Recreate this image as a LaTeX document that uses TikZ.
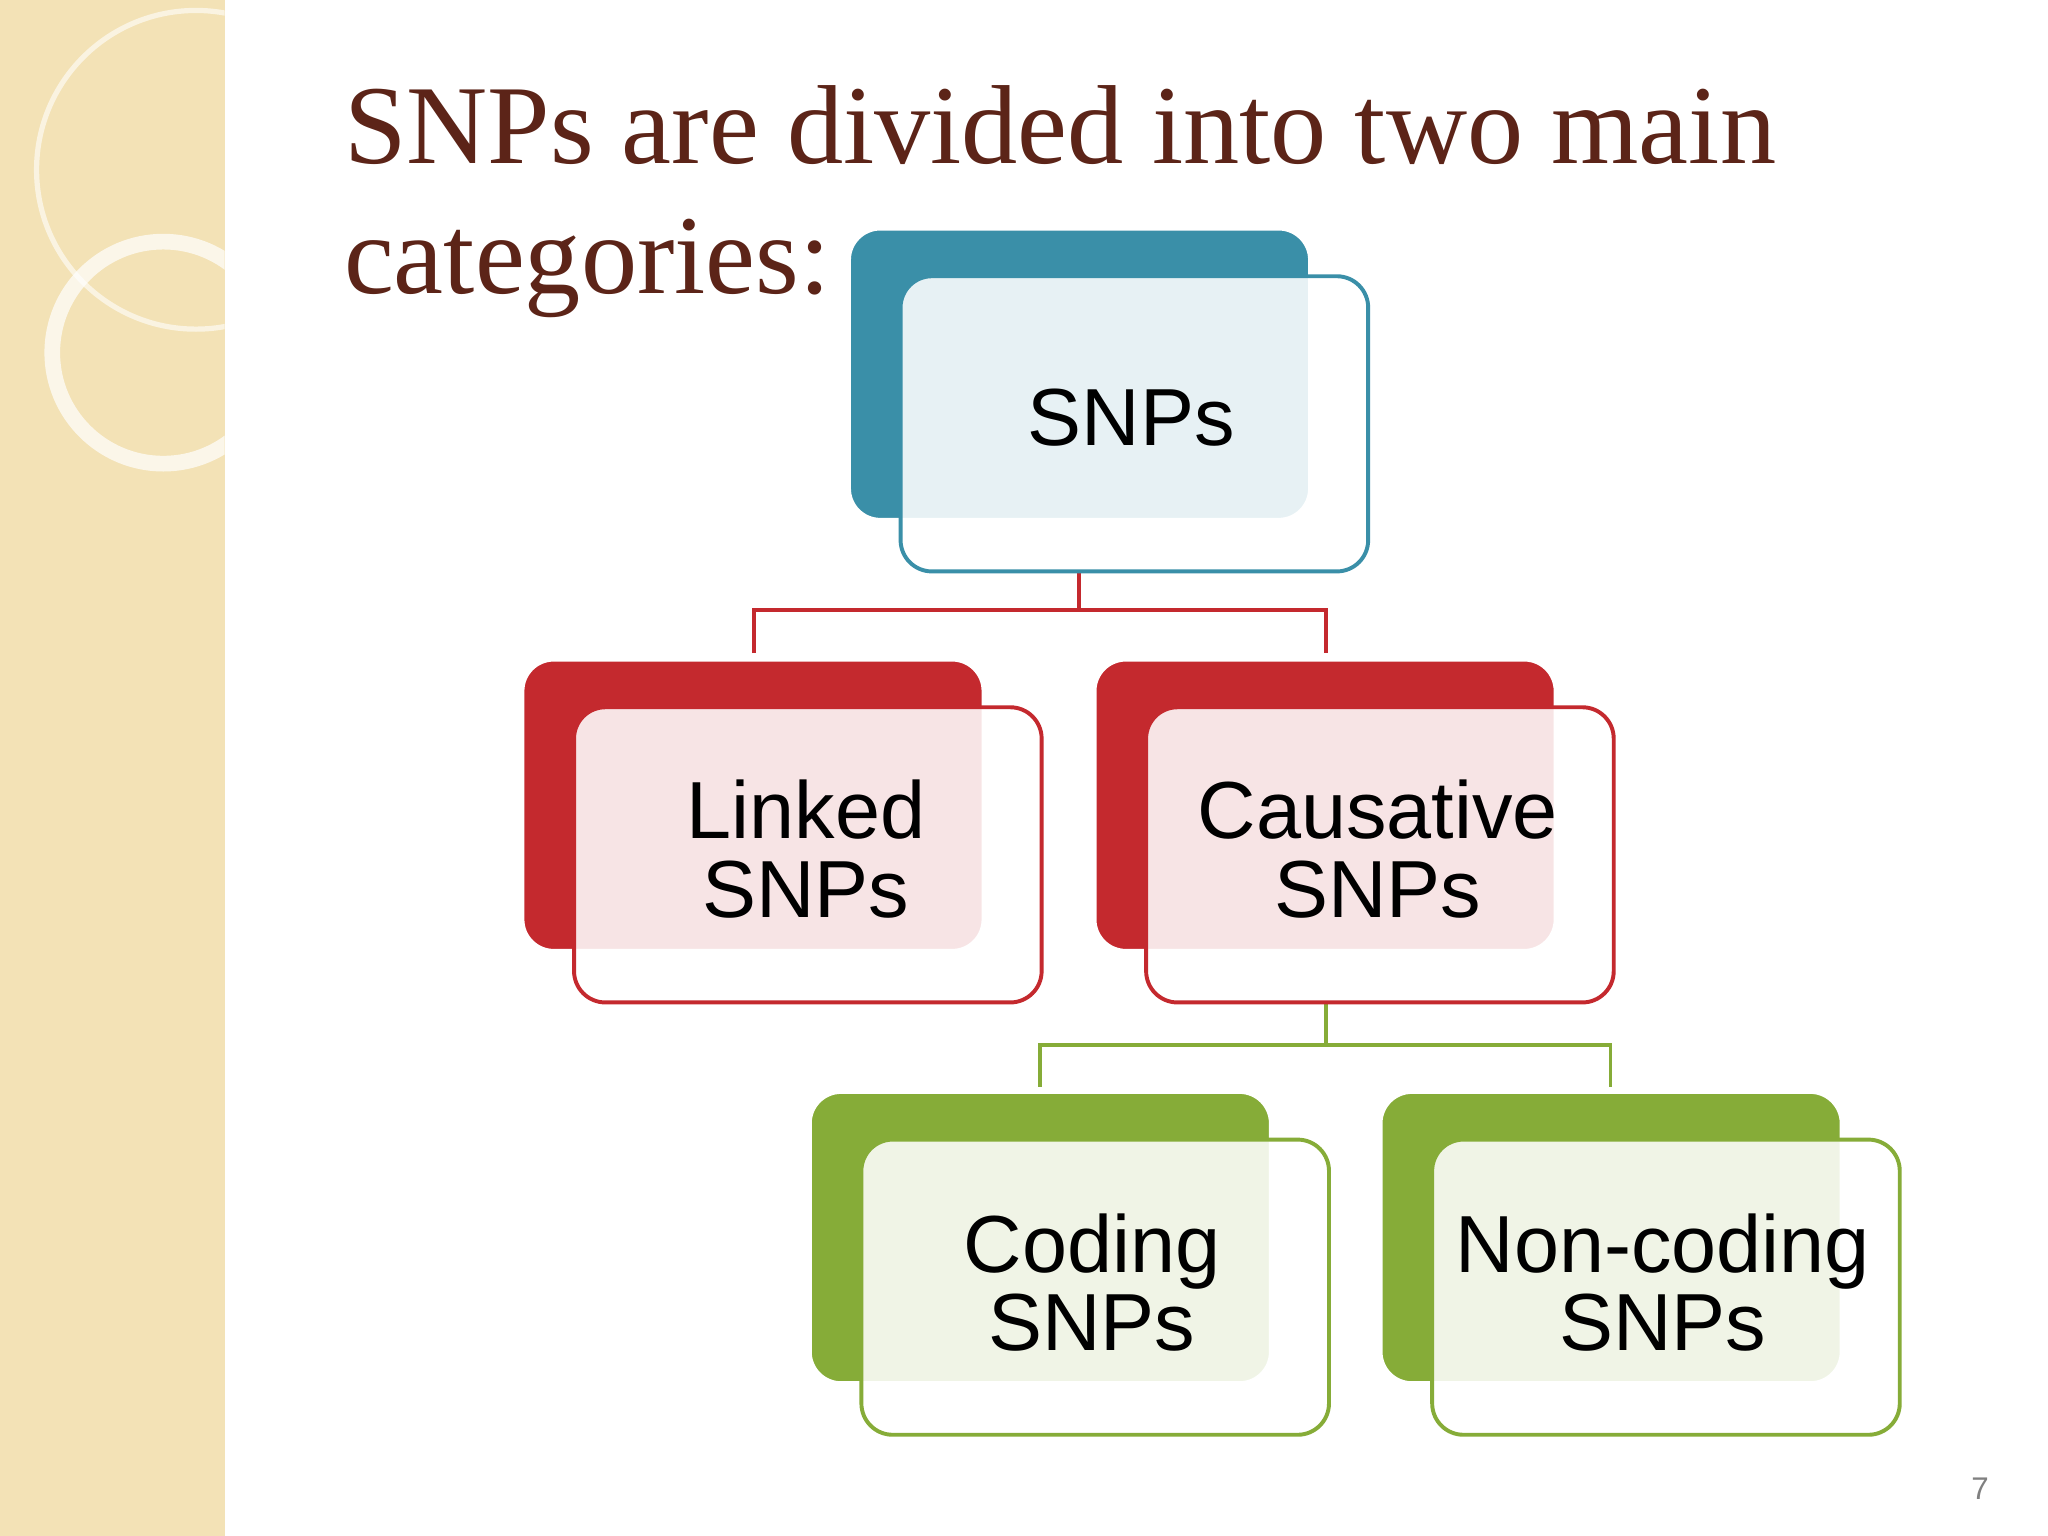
\documentclass[tikz,border=0pt]{standalone}
\usepackage{fontspec}
\setmainfont{Liberation Serif}
\newfontfamily\lab{Liberation Sans}
\definecolor{teal}{HTML}{3A8FA8}
\definecolor{red}{HTML}{C4292E}
\definecolor{grn}{HTML}{86AC38}
\definecolor{brn}{HTML}{5C2418}
\definecolor{beige}{HTML}{F3E2B6}
\tikzset{
 back/.style={rounded corners=12pt,draw=white,line width=1.5pt},
 front/.style={rounded corners=12pt,line width=1.5pt,fill=white,fill opacity=0.88,text opacity=1},
 lbl/.style={font=\lab\fontsize{31}{30}\selectfont,align=center,text=black},
 conn/.style={line width=1.5pt}
}
\begin{document}
\begin{tikzpicture}[x=0.5pt,y=-0.5pt]
\useasboundingbox (0,0) rectangle (1568,1176);
\fill[white] (0,0) rectangle (1568,1176);
\fill[beige] (0,0) rectangle (172,1176);
\begin{scope}
\clip (0,0) rectangle (172,1176);
\draw[white,opacity=0.7,line width=6pt] (125,270) circle (85);
\draw[white,opacity=0.6,line width=2pt] (150,130) circle (122);
\end{scope}
\node[anchor=base west,text=brn,font=\fontsize{43}{50}\selectfont,inner sep=0] (t1) at (263,125) {SNPs are divided into two main};
\node[anchor=base west,text=brn,font=\fontsize{43}{50}\selectfont,inner sep=0] (t2) at (263,225) {categories:};
% connectors
\coordinate (r0) at (826,437); \coordinate (r1) at (826,467);
\coordinate (rl) at (577,467); \coordinate (rr) at (1015,467);
\coordinate (rl2) at (577,500); \coordinate (rr2) at (1015,500);
\draw[conn,red] (r0)--(r1); \draw[conn,red] (rl2)--(rl)--(rr)--(rr2);
\coordinate (g0) at (1015,767); \coordinate (g1) at (1015,800);
\coordinate (gl) at (796,800); \coordinate (gr) at (1233,800);
\coordinate (gl2) at (796,832); \coordinate (gr2) at (1233,832);
\draw[conn,grn] (g0)--(g1); \draw[conn,grn] (gl2)--(gl)--(gr)--(gr2);
% boxes
\newcommand\bx[7]{%
 \fill[back,fill=#5] (#1,#2) rectangle ++(353,223);
 \node[front,draw=#5,minimum width=179pt,minimum height=113pt,anchor=north west,lbl] (#6) at (#1+38,#2+35) {};
 \node[lbl] (#6t) at (#3,#4) {#7};}
\bx{650}{175}{866}{320}{teal}{snp}{SNPs}
\bx{400}{505}{617}{650}{red}{lnk}{Linked\\SNPs}
\bx{838}{505}{1055}{650}{red}{cau}{Causative\\SNPs}
\bx{620}{836}{836}{982}{grn}{cod}{Coding\\SNPs}
\bx{1057}{836}{1273}{982}{grn}{non}{Non-coding\\SNPs}
\node[text=gray,font=\lab\fontsize{12}{14}\selectfont] (pg) at (1516,1140) {7};
\end{tikzpicture}
\end{document}
